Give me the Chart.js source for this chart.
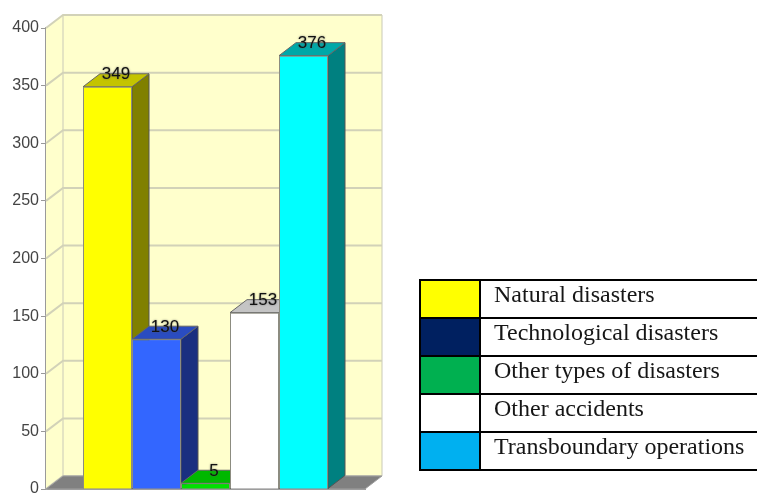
<!DOCTYPE html>
<html>
<head>
<meta charset="utf-8">
<script src="https://cdn.jsdelivr.net/npm/chart.js@4"></script>
<style>
    html, body { margin: 0; padding: 0; background: #fff; overflow: hidden; }
    body { width: 757px; height: 494px; position: relative; }
    #chart { position: absolute; left: 0; top: 0; filter: blur(0.6px); }
    #legend {
        position: absolute; left: 419px; top: 279px; width: 345px;
        border-collapse: collapse; table-layout: fixed;
        font-family: "Liberation Serif", serif; font-size: 24px; color: #161616;
    }
    #legend td { border: 2px solid #000; height: 36px; padding: 0; box-sizing: content-box; white-space: nowrap; }
    #legend td.swatch { width: 58px; }
    #legend td.name { padding-left: 13px; line-height: 27px; vertical-align: top; }
</style>
</head>
<body>
<canvas id="chart" width="757" height="494"></canvas>
<table id="legend"><tbody></tbody></table>
<script>
const categories = ['Natural disasters', 'Technological disasters', 'Other types of disasters', 'Other accidents', 'Transboundary operations'];
const values = [349, 130, 5, 153, 376];

const frontColors = ['#ffff00', '#3366ff', '#00e000', '#ffffff', '#00ffff'];
const topColors = ['#c4c400', '#2a4cc0', '#00b800', '#c4c4c4', '#00a8a8'];
const sideColors = ['#808000', '#1a2f80', '#007000', '#808080', '#008080'];
const legendColors = ['#ffff00', '#002060', '#00b050', '#ffffff', '#00b0f0'];

const depthX = 17;
const depthY = 13;

function poly(ctx, points, fill, stroke) {
    ctx.beginPath();
    points.forEach((p, i) => i ? ctx.lineTo(p[0], p[1]) : ctx.moveTo(p[0], p[1]));
    ctx.closePath();
    ctx.fillStyle = fill;
    ctx.fill();
    if (stroke) {
        ctx.strokeStyle = stroke;
        ctx.lineWidth = 1;
        ctx.stroke();
    }
}

// back wall, side wall and floor
const wallsPlugin = {
    id: 'walls',
    beforeDatasetsDraw(chart) {
        const { ctx, chartArea: a, scales: { y } } = chart;
        ctx.save();
        poly(ctx, [[a.left, a.top], [a.left + depthX, a.top - depthY], [a.left + depthX, a.bottom - depthY], [a.left, a.bottom]], '#ffffcc');
        poly(ctx, [[a.left + depthX, a.top - depthY], [a.right + depthX, a.top - depthY], [a.right + depthX, a.bottom - depthY], [a.left + depthX, a.bottom - depthY]], '#ffffcc', '#c9c9b8');
        ctx.strokeStyle = '#d2d2b8';
        ctx.lineWidth = 2;
        y.ticks.forEach(t => {
            const py = y.getPixelForValue(t.value);
            ctx.beginPath();
            ctx.moveTo(a.left, py);
            ctx.lineTo(a.left + depthX, py - depthY);
            ctx.lineTo(a.right + depthX, py - depthY);
            ctx.stroke();
        });
        poly(ctx, [[a.left, a.bottom], [a.left + depthX, a.bottom - depthY], [a.right + depthX, a.bottom - depthY], [a.right, a.bottom]], '#808080', '#a0a0a0');
        ctx.restore();
    }
};

// side and top faces of the bars, left to right, then the value above each
const bars3dPlugin = {
    id: 'bars3d',
    afterDatasetsDraw(chart) {
        const ctx = chart.ctx;
        ctx.save();
        categories.forEach((name, i) => {
            const bar = chart.getDatasetMeta(i).data[0];
            const l = bar.x - bar.width / 2;
            const r = bar.x + bar.width / 2;
            poly(ctx, [[r, bar.y], [r + depthX, bar.y - depthY], [r + depthX, bar.base - depthY], [r, bar.base]], sideColors[i], '#555');
            poly(ctx, [[l, bar.y], [l + depthX, bar.y - depthY], [r + depthX, bar.y - depthY], [r, bar.y]], topColors[i], '#666');
            bar.draw(ctx);
        });
        ctx.font = '17px "Liberation Sans", Arial, sans-serif';
        ctx.fillStyle = '#111';
        ctx.shadowColor = 'rgba(90,90,90,0.8)';
        ctx.shadowBlur = 2;
        ctx.textAlign = 'center';
        ctx.textBaseline = 'middle';
        categories.forEach((name, i) => {
            const bar = chart.getDatasetMeta(i).data[0];
            ctx.fillText(String(values[i]), bar.x + depthX / 2, bar.y - depthY + 1);
        });
        ctx.restore();
    }
};

new Chart(document.getElementById('chart'), {
    type: 'bar',
    data: {
        labels: [''],
        datasets: categories.map((name, i) => ({
            label: name,
            data: [values[i]],
            backgroundColor: frontColors[i],
            borderColor: '#8c8c80',
            borderWidth: 1
        }))
    },
    options: {
        responsive: false,
        animation: false,
        categoryPercentage: 245 / 319,
        barPercentage: 1,
        layout: { padding: { top: 28, bottom: 4, left: 0, right: 392 } },
        plugins: { legend: { display: false }, tooltip: { enabled: false } },
        scales: {
            x: {
                grid: { display: false, drawTicks: false },
                border: { display: true, color: '#9a9a9a', width: 2 },
                ticks: { display: false },
                afterFit(scale) { scale.height = 1; scale.paddingBottom = 0; }
            },
            y: {
                min: 0,
                max: 400,
                ticks: {
                    stepSize: 50,
                    color: '#444',
                    padding: 2,
                    font: { family: '"Liberation Sans", Arial, sans-serif', size: 16 }
                },
                grid: { drawOnChartArea: false, tickLength: 5, color: '#999' },
                border: { display: true, color: '#9a9a9a', width: 2 },
                afterFit(scale) { scale.width = 46; scale.paddingBottom = 0; scale.paddingTop = 0; }
            }
        }
    },
    plugins: [wallsPlugin, bars3dPlugin]
});

const tbody = document.querySelector('#legend tbody');
categories.forEach((name, i) => {
    const row = document.createElement('tr');
    row.innerHTML = `<td class="swatch" style="background:${legendColors[i]}"></td><td class="name">${name}</td>`;
    tbody.appendChild(row);
});
</script>
</body>
</html>
